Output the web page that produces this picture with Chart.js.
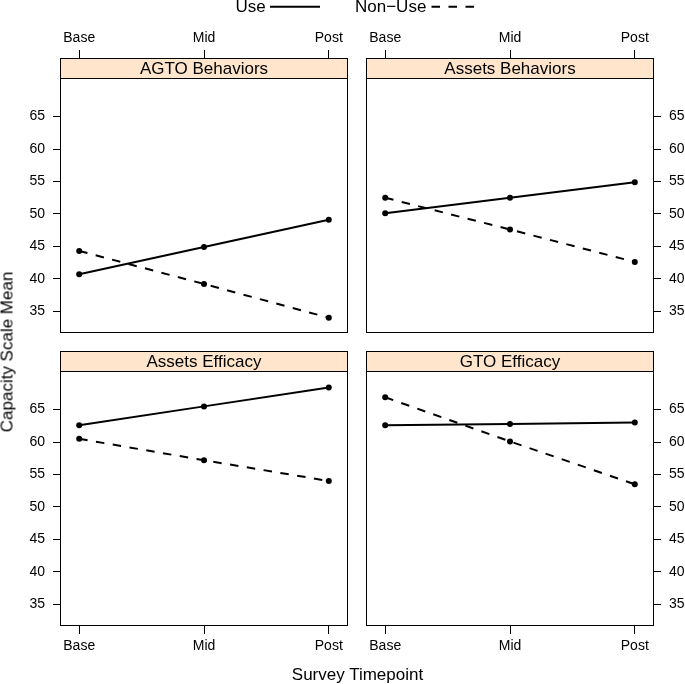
<!DOCTYPE html>
<html>
<head>
<meta charset="utf-8">
<script src="https://cdn.jsdelivr.net/npm/chart.js@4.4.1/dist/chart.umd.min.js"></script>
<style>
html,body{margin:0;padding:0;background:#fff;}
#wrap{position:relative;width:685px;height:684px;overflow:hidden;font-family:"Liberation Sans",Arial,Helvetica,sans-serif;color:#000;}
#wrap canvas{position:absolute;left:0;top:0;}
.t{position:absolute;white-space:nowrap;font-size:17px;line-height:17px;}
#ytitle{left:7px;top:351.5px;transform:translate(-50%,-50%) rotate(-90deg);}
#xtitle{left:357.5px;top:665.7px;transform:translateX(-50%);}
#legsvg{position:absolute;left:0;top:0;}
</style>
</head>
<body>
<div id="wrap">
  <canvas id="p0" width="685" height="684" style="width:685px;height:684px"></canvas>
  <canvas id="p1" width="685" height="684" style="width:685px;height:684px"></canvas>
  <canvas id="p2" width="685" height="684" style="width:685px;height:684px"></canvas>
  <canvas id="p3" width="685" height="684" style="width:685px;height:684px"></canvas>
  <svg id="legsvg" width="685" height="20">
    <line x1="270" y1="6.7" x2="320" y2="6.7" stroke="#000" stroke-width="2"/>
    <line x1="431.5" y1="6.7" x2="475" y2="6.7" stroke="#000" stroke-width="2" stroke-dasharray="8.5 8.5"/>
  </svg>
  <div class="t" id="legUse" style="left:235.5px;top:-1.6px;">Use</div>
  <div class="t" id="legNon" style="left:355px;top:-1.6px;">Non−Use</div>
  <div class="t" id="ytitle">Capacity Scale Mean</div>
  <div class="t" id="xtitle">Survey Timepoint</div>
</div>
<script>
// ---- data ----
const timepoints = ["Base", "Mid", "Post"];
const panelTitles = ["AGTO Behaviors", "Assets Behaviors", "Assets Efficacy", "GTO Efficacy"];
const seriesNames = ["Use", "Non\u2212Use"];
const yTicks = [35, 40, 45, 50, 55, 60, 65];

const agtoUse = [40.7, 44.9, 49.1];
const agtoNonUse = [44.3, 39.2, 34.0];
const assetsBehUse = [50.1, 52.5, 54.9];
const assetsBehNonUse = [52.5, 47.6, 42.6];
const assetsEffUse = [62.6, 65.5, 68.4];
const assetsEffNonUse = [60.5, 57.2, 54.0];
const gtoEffUse = [62.6, 62.8, 63.0];
const gtoEffNonUse = [66.9, 60.1, 53.5];

// ---- styling / layout ----
const FONT = "'Liberation Sans', Arial, Helvetica, sans-serif";
Chart.defaults.font.family = FONT;
Chart.defaults.color = '#000';

const stripPlugin = {
  id: 'strip',
  afterDraw(chart, args, opts) {
    const ctx = chart.ctx;
    const a = chart.chartArea;
    const sh = 20;
    ctx.save();
    ctx.fillStyle = '#FFE5CC';
    ctx.fillRect(a.left, a.top - sh, a.right - a.left, sh);
    ctx.strokeStyle = '#000';
    ctx.lineWidth = 1;
    ctx.strokeRect(a.left - 0.5, a.top - sh - 0.5, a.right - a.left + 1, sh);
    ctx.strokeRect(a.left - 0.5, a.top - 0.5, a.right - a.left + 1, a.bottom - a.top + 1);
    ctx.fillStyle = '#000';
    ctx.font = '17px ' + FONT;
    ctx.textAlign = 'center';
    ctx.textBaseline = 'middle';
    ctx.fillText(opts.title, (a.left + a.right) / 2, a.top - sh / 2 + 0.5);
    ctx.restore();
  }
};

function toPoints(vals) {
  return vals.map((v, i) => ({ x: i, y: v }));
}

function makePanel(id, title, useVals, nonUseVals, geo) {
  return new Chart(document.getElementById(id), {
    type: 'line',
    data: {
      datasets: [
        {
          label: seriesNames[0], data: toPoints(useVals),
          borderColor: '#000', backgroundColor: '#000', borderWidth: 2,
          pointRadius: 3, pointBackgroundColor: '#000', pointBorderWidth: 0,
          fill: false, tension: 0
        },
        {
          label: seriesNames[1], data: toPoints(nonUseVals),
          borderColor: '#000', backgroundColor: '#000', borderWidth: 2, borderDash: [8.5, 8.5],
          pointRadius: 3, pointBackgroundColor: '#000', pointBorderWidth: 0,
          fill: false, tension: 0
        }
      ]
    },
    options: {
      responsive: false,
      animation: false,
      events: [],
      layout: { padding: geo.pad },
      plugins: {
        legend: { display: false },
        tooltip: { enabled: false },
        strip: { title: title }
      },
      scales: {
        x: {
          type: 'linear', position: geo.xPos, min: -0.146, max: 2.146,
          afterBuildTicks: s => { s.ticks = timepoints.map((_, i) => ({ value: i })); },
          afterFit: s => { s.height = geo.xH; },
          grid: { display: true, drawOnChartArea: false, drawTicks: true, tickLength: geo.xTick, color: '#000', lineWidth: 1 },
          border: { display: false },
          ticks: { color: '#000', font: { size: 14 }, padding: geo.xPad, maxRotation: 0, minRotation: 0, autoSkip: false,
                   callback: v => timepoints[v] }
        },
        y: {
          type: 'linear', position: geo.yPos, min: 31.8, max: 70.8,
          afterBuildTicks: s => { s.ticks = yTicks.map(v => ({ value: v })); },
          afterFit: s => { s.width = geo.yW; },
          grid: { display: true, drawOnChartArea: false, drawTicks: true, tickLength: 8, color: '#000', lineWidth: 1 },
          border: { display: false },
          ticks: { color: '#000', font: { size: 14 }, padding: 8, autoSkip: false, callback: v => String(v) }
        }
      }
    },
    plugins: [stripPlugin]
  });
}

makePanel('p0', panelTitles[0], agtoUse, agtoNonUse,
  { pad: { left: 16, right: 338, top: 19, bottom: 352 }, xPos: 'top', xH: 60, xTick: 29, xPad: 3, yPos: 'left', yW: 45 });
makePanel('p1', panelTitles[1], assetsBehUse, assetsBehNonUse,
  { pad: { left: 367, right: 0, top: 19, bottom: 352 }, xPos: 'top', xH: 60, xTick: 29, xPad: 3, yPos: 'right', yW: 32 });
makePanel('p2', panelTitles[2], assetsEffUse, assetsEffNonUse,
  { pad: { left: 16, right: 338, top: 372, bottom: 19 }, xPos: 'bottom', xH: 40, xTick: 9, xPad: 4, yPos: 'left', yW: 45 });
makePanel('p3', panelTitles[3], gtoEffUse, gtoEffNonUse,
  { pad: { left: 367, right: 0, top: 372, bottom: 19 }, xPos: 'bottom', xH: 40, xTick: 9, xPad: 4, yPos: 'right', yW: 32 });
</script>
</body>
</html>
